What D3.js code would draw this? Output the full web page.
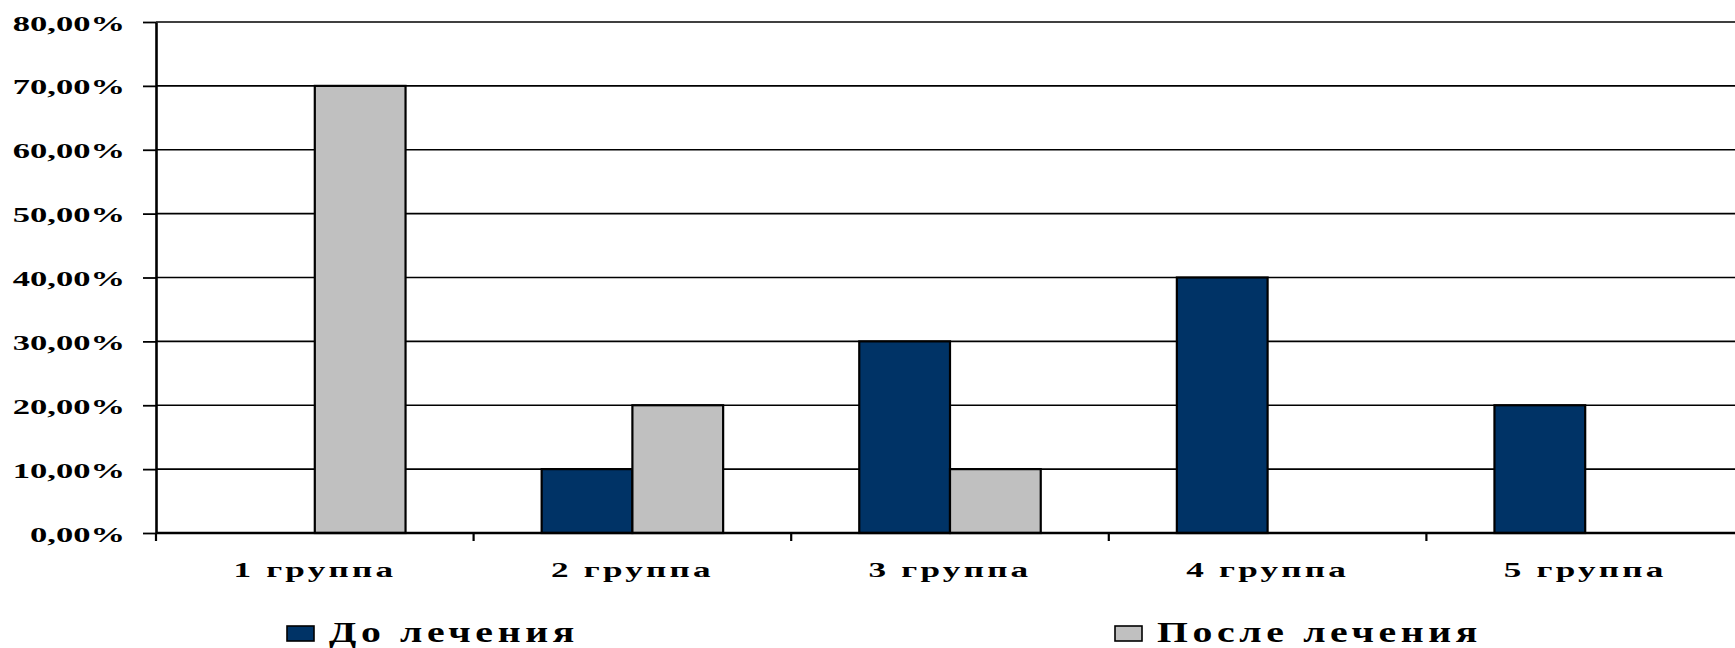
<!DOCTYPE html>
<html>
<head>
<meta charset="utf-8">
<script src="https://cdn.jsdelivr.net/npm/d3@7"></script>
<style>
  html, body { margin: 0; padding: 0; background: #fff; }
  svg { display: block; }
  text { font-family: "Liberation Serif", "Times New Roman", serif; font-weight: bold; fill: #000; }
</style>
</head>
<body>
<svg id="chart" width="1735" height="648"></svg>
<script>
// Group labels and share of patients (percent) before and after treatment
const categories = ["1 группа", "2 группа", "3 группа", "4 группа", "5 группа"];
const seriesNames = ["До лечения", "После лечения"];
const beforeValues = [0, 10, 30, 40, 20];
const afterValues = [70, 20, 10, 0, 0];
const yTicks = [0, 10, 20, 30, 40, 50, 60, 70, 80];
const colors = ["#003366", "#C0C0C0"];

const svg = d3.select("#chart");
const W = 1735, H = 648;
const margin = { left: 156, top: 22, right: -9, bottom: 115 };
const plotW = W - margin.left - margin.right;
const plotH = H - margin.top - margin.bottom;

const ruLocale = d3.formatLocale({ decimal: ",", thousands: " ", grouping: [3], currency: ["", " ₽"] });
const fmt = v => ruLocale.format(".2f")(v) + "%";

const x0 = d3.scaleBand().domain(categories).range([0, plotW]).paddingInner(0).paddingOuter(0);
// gap width of 150%: two bars plus 1.5 bar widths per category
const inner = d3.scaleBand().domain(seriesNames).range([0, x0.bandwidth()])
  .paddingInner(0).paddingOuter(0.75);
const y = d3.scaleLinear().domain([0, 80]).range([plotH, 0]);

const g = svg.append("g").attr("transform", `translate(${margin.left},${margin.top})`);

// horizontal gridlines
g.append("g").selectAll("line").data(yTicks.filter(t => t > 0)).join("line")
  .attr("x1", 0).attr("x2", plotW)
  .attr("y1", d => y(d)).attr("y2", d => y(d))
  .attr("stroke", "#000").attr("stroke-width", 1.6);

// bars
const rows = categories.map((c, i) => ({ c, vals: [beforeValues[i], afterValues[i]] }));
const grp = g.append("g").selectAll("g").data(rows).join("g")
  .attr("transform", d => `translate(${x0(d.c)},0)`);
grp.selectAll("rect").data(d => d.vals.map((v, j) => ({ v, s: seriesNames[j], j })).filter(e => e.v > 0))
  .join("rect")
  .attr("x", d => inner(d.s))
  .attr("width", inner.bandwidth())
  .attr("y", d => y(d.v))
  .attr("height", d => y(0) - y(d.v))
  .attr("fill", d => colors[d.j])
  .attr("stroke", "#000").attr("stroke-width", 2.2);

// y axis
const yAxis = g.append("g").call(d3.axisLeft(y).tickValues(yTicks).tickFormat(fmt).tickSize(13).tickSizeOuter(0));
yAxis.attr("font-family", null);
yAxis.select(".domain").attr("stroke", "#000").attr("stroke-width", 2.6);
yAxis.selectAll(".tick line").attr("stroke", "#000").attr("stroke-width", 1.8);
yAxis.selectAll(".tick text")
  .attr("x", null).attr("dy", null)
  .attr("font-size", 22)
  .attr("text-anchor", "end")
  .attr("transform", "translate(-31,8) scale(1.57,1)");

// x axis with ticks on category boundaries
const xAxisG = g.append("g").attr("transform", `translate(0,${plotH})`);
xAxisG.append("line").attr("x1", 0).attr("x2", plotW).attr("stroke", "#000").attr("stroke-width", 2.6);
const bounds = categories.map(c => x0(c)).concat([plotW]);
xAxisG.selectAll("line.tk").data(bounds).join("line").attr("class", "tk")
  .attr("x1", d => d).attr("x2", d => d).attr("y1", 0).attr("y2", 8)
  .attr("stroke", "#000").attr("stroke-width", 2.2);
xAxisG.selectAll("text").data(categories).join("text")
  .attr("text-anchor", "middle")
  .attr("font-size", 22)
  .attr("letter-spacing", 2)
  .attr("transform", d => `translate(${x0(d) + x0.bandwidth() / 2},44) scale(1.6,1)`)
  .text(d => d);

// legend
const legend = svg.append("g");
const legendX = [287, 1115];
const lg = legend.selectAll("g").data(seriesNames).join("g")
  .attr("transform", (d, i) => `translate(${legendX[i]},626)`);
lg.append("rect").attr("width", 27).attr("height", 15)
  .attr("fill", (d, i) => colors[i]).attr("stroke", "#000").attr("stroke-width", 1.6);
lg.append("text")
  .attr("font-size", 29)
  .attr("letter-spacing", 3.4)
  .attr("transform", "translate(42,16) scale(1.37,1)")
  .text(d => d);
</script>
</body>
</html>
